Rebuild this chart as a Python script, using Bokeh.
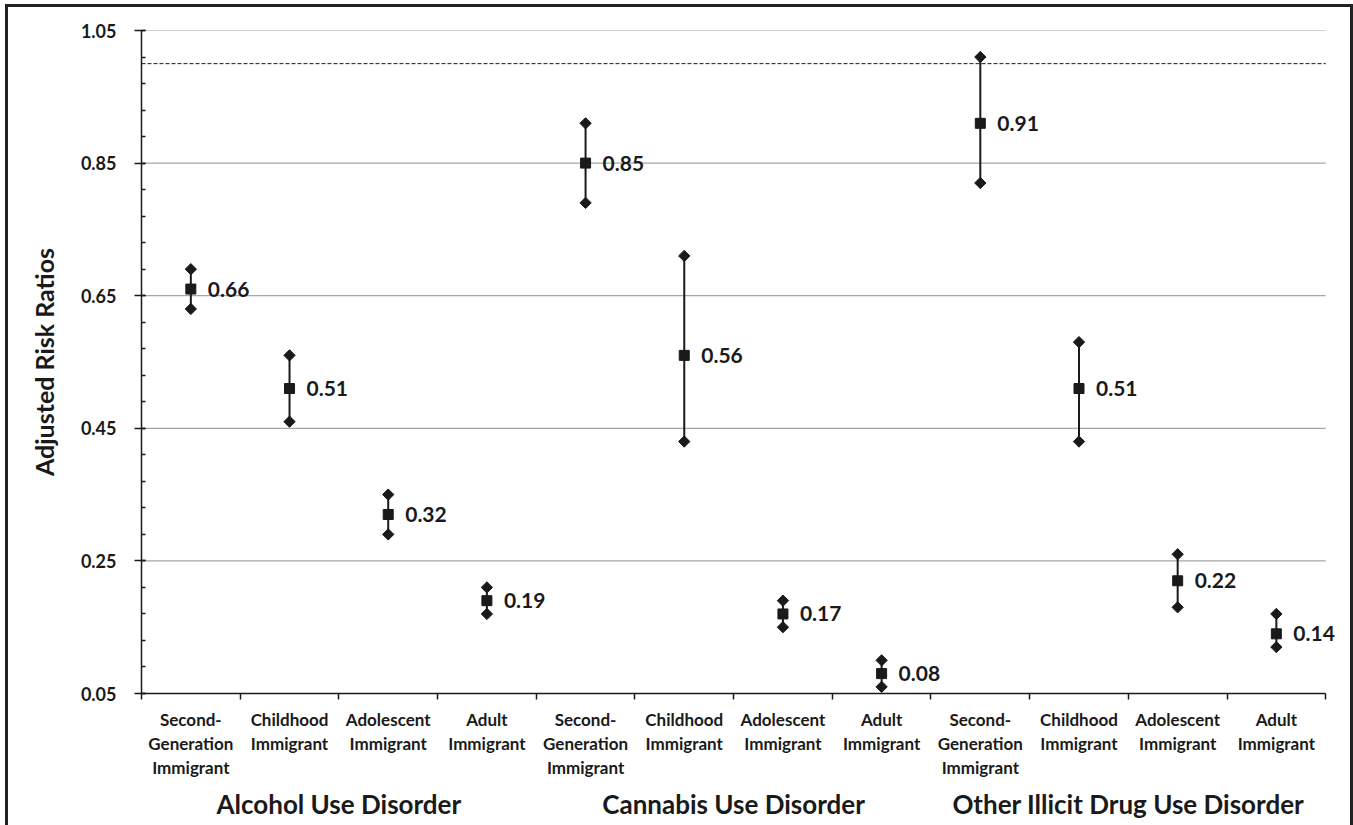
import numpy as np
from bokeh.plotting import figure
from bokeh.models import (Range1d, LinearAxis, FixedTicker, ColumnDataSource,
                          LabelSet, NumeralTickFormatter)
from bokeh.core.properties import value
from bokeh.embed import file_html
from bokeh.resources import INLINE

# ---- data ----
groups = ["Alcohol Use Disorder", "Cannabis Use Disorder", "Other Illicit Drug Use Disorder"]
subgroups = ["Second-\nGeneration\nImmigrant", "Childhood\nImmigrant",
             "Adolescent\nImmigrant", "Adult\nImmigrant"]
estimates = [0.66, 0.51, 0.32, 0.19, 0.85, 0.56, 0.17, 0.08, 0.91, 0.51, 0.22, 0.14]
lower = [0.63, 0.46, 0.29, 0.17, 0.79, 0.43, 0.15, 0.06, 0.82, 0.43, 0.18, 0.12]
upper = [0.69, 0.56, 0.35, 0.21, 0.91, 0.71, 0.19, 0.10, 1.01, 0.58, 0.26, 0.17]
y_ticks = [0.05, 0.25, 0.45, 0.65, 0.85, 1.05]
reference_ratio = 1.0

FONT = "Lato"
INK = "#1a1a1a"

factors = [(g, s) for g in groups for s in subgroups]
n = len(factors)
centers = [i + 0.5 for i in range(n)]   # category slot centres on the x scale

src = ColumnDataSource(dict(
    x=centers, est=estimates, lo=lower, hi=upper,
    lab=["%.2f" % v for v in estimates],
))

p = figure(width=1348, height=821,
           x_range=Range1d(0, n + 0.15), y_range=Range1d(y_ticks[0], y_ticks[-1]),
           output_backend="svg", toolbar_location=None, x_axis_location=None,
           min_border_left=133, min_border_top=23, min_border_right=16, min_border_bottom=135)
p.outline_line_color = None
p.styles = {"border-top": "3px solid #222", "border-left": "3px solid #222",
            "border-right": "3px solid #222", "margin-left": "5px", "margin-top": "4px"}

# y axis
ya = p.yaxis[0]
ya.ticker = FixedTicker(ticks=y_ticks, minor_ticks=list(np.arange(0.05, 1.0501, 0.04)))
ya.formatter = NumeralTickFormatter(format="0.00")
ya.axis_label = "Adjusted Risk Ratios"
ya.axis_label_text_font = FONT
ya.axis_label_text_font_style = "bold"
ya.axis_label_text_font_size = "25px"
ya.axis_label_text_color = INK
ya.axis_label_standoff = 19
ya.major_label_text_font = FONT
ya.major_label_text_font_style = "bold"
ya.major_label_text_font_size = "18px"
ya.major_label_text_color = INK
ya.major_label_standoff = 18
ya.axis_line_color = INK
ya.axis_line_width = 1.5
ya.major_tick_line_color = INK
ya.major_tick_line_width = 1.5
ya.major_tick_out = 7
ya.major_tick_in = 4
ya.minor_tick_line_color = INK
ya.minor_tick_line_width = 1.5
ya.minor_tick_in = 4
ya.minor_tick_out = 0

p.xgrid.visible = False
p.ygrid.visible = False

# horizontal grid lines (stop at the last category boundary)
grid_y = y_ticks[1:]
p.segment(x0=[0] * len(grid_y), x1=[n] * len(grid_y), y0=grid_y, y1=grid_y,
          line_color="#a6a6a6", line_width=1.2)
# reference line at RR = 1
p.segment(x0=[0], x1=[n], y0=[reference_ratio], y1=[reference_ratio],
          line_color=INK, line_width=1, line_dash="4 2")

# x axes
tick_axis = LinearAxis(ticker=FixedTicker(ticks=list(range(n + 1)), minor_ticks=[]),
                       major_label_overrides={i: "" for i in range(n + 1)},
                       bounds=(0, n),
                       major_label_standoff=0, major_tick_in=0, major_tick_out=6,
                       axis_line_color=INK, axis_line_width=1.5,
                       major_tick_line_color=INK, major_tick_line_width=1.5,
                       minor_tick_line_color=None)
cat_axis = LinearAxis(ticker=FixedTicker(ticks=centers, minor_ticks=[]),
                      major_label_overrides={c: f[1] for c, f in zip(centers, factors)},
                      axis_line_color=None, major_tick_line_color=None, minor_tick_line_color=None,
                      major_label_standoff=3,
                      major_label_text_font=FONT, major_label_text_font_style="bold",
                      major_label_text_font_size="17px", major_label_text_color=INK,
                      major_label_text_line_height=1.16)
gcent = [len(subgroups) * (k + 0.5) for k in range(len(groups))]
group_axis = LinearAxis(ticker=FixedTicker(ticks=gcent, minor_ticks=[]),
                        major_label_overrides={c: g for c, g in zip(gcent, groups)},
                        axis_line_color=None, major_tick_line_color=None, minor_tick_line_color=None,
                        major_label_standoff=0,
                        major_label_text_font=FONT, major_label_text_font_style="bold",
                        major_label_text_font_size="26px", major_label_text_color=INK)
p.add_layout(tick_axis, "below")
p.add_layout(cat_axis, "below")
p.add_layout(group_axis, "below")

# error bars
p.segment(x0="x", y0="lo", x1="x", y1="hi", source=src, line_color=INK, line_width=2)
p.scatter(x="x", y="lo", source=src, marker="square", angle=np.pi / 4, size=8,
          fill_color=INK, line_color=INK)
p.scatter(x="x", y="hi", source=src, marker="square", angle=np.pi / 4, size=8,
          fill_color=INK, line_color=INK)
p.scatter(x="x", y="est", source=src, marker="square", size=10, fill_color=INK, line_color=INK)

labels = LabelSet(x="x", y="est", text="lab", source=src, x_offset=17, y_offset=0,
                  text_baseline="middle", text_align="left", text_font=value(FONT),
                  text_font_style="bold", text_font_size="21px", text_color=INK)
p.add_layout(labels)

open("out.html", "w").write(file_html(p, INLINE))
